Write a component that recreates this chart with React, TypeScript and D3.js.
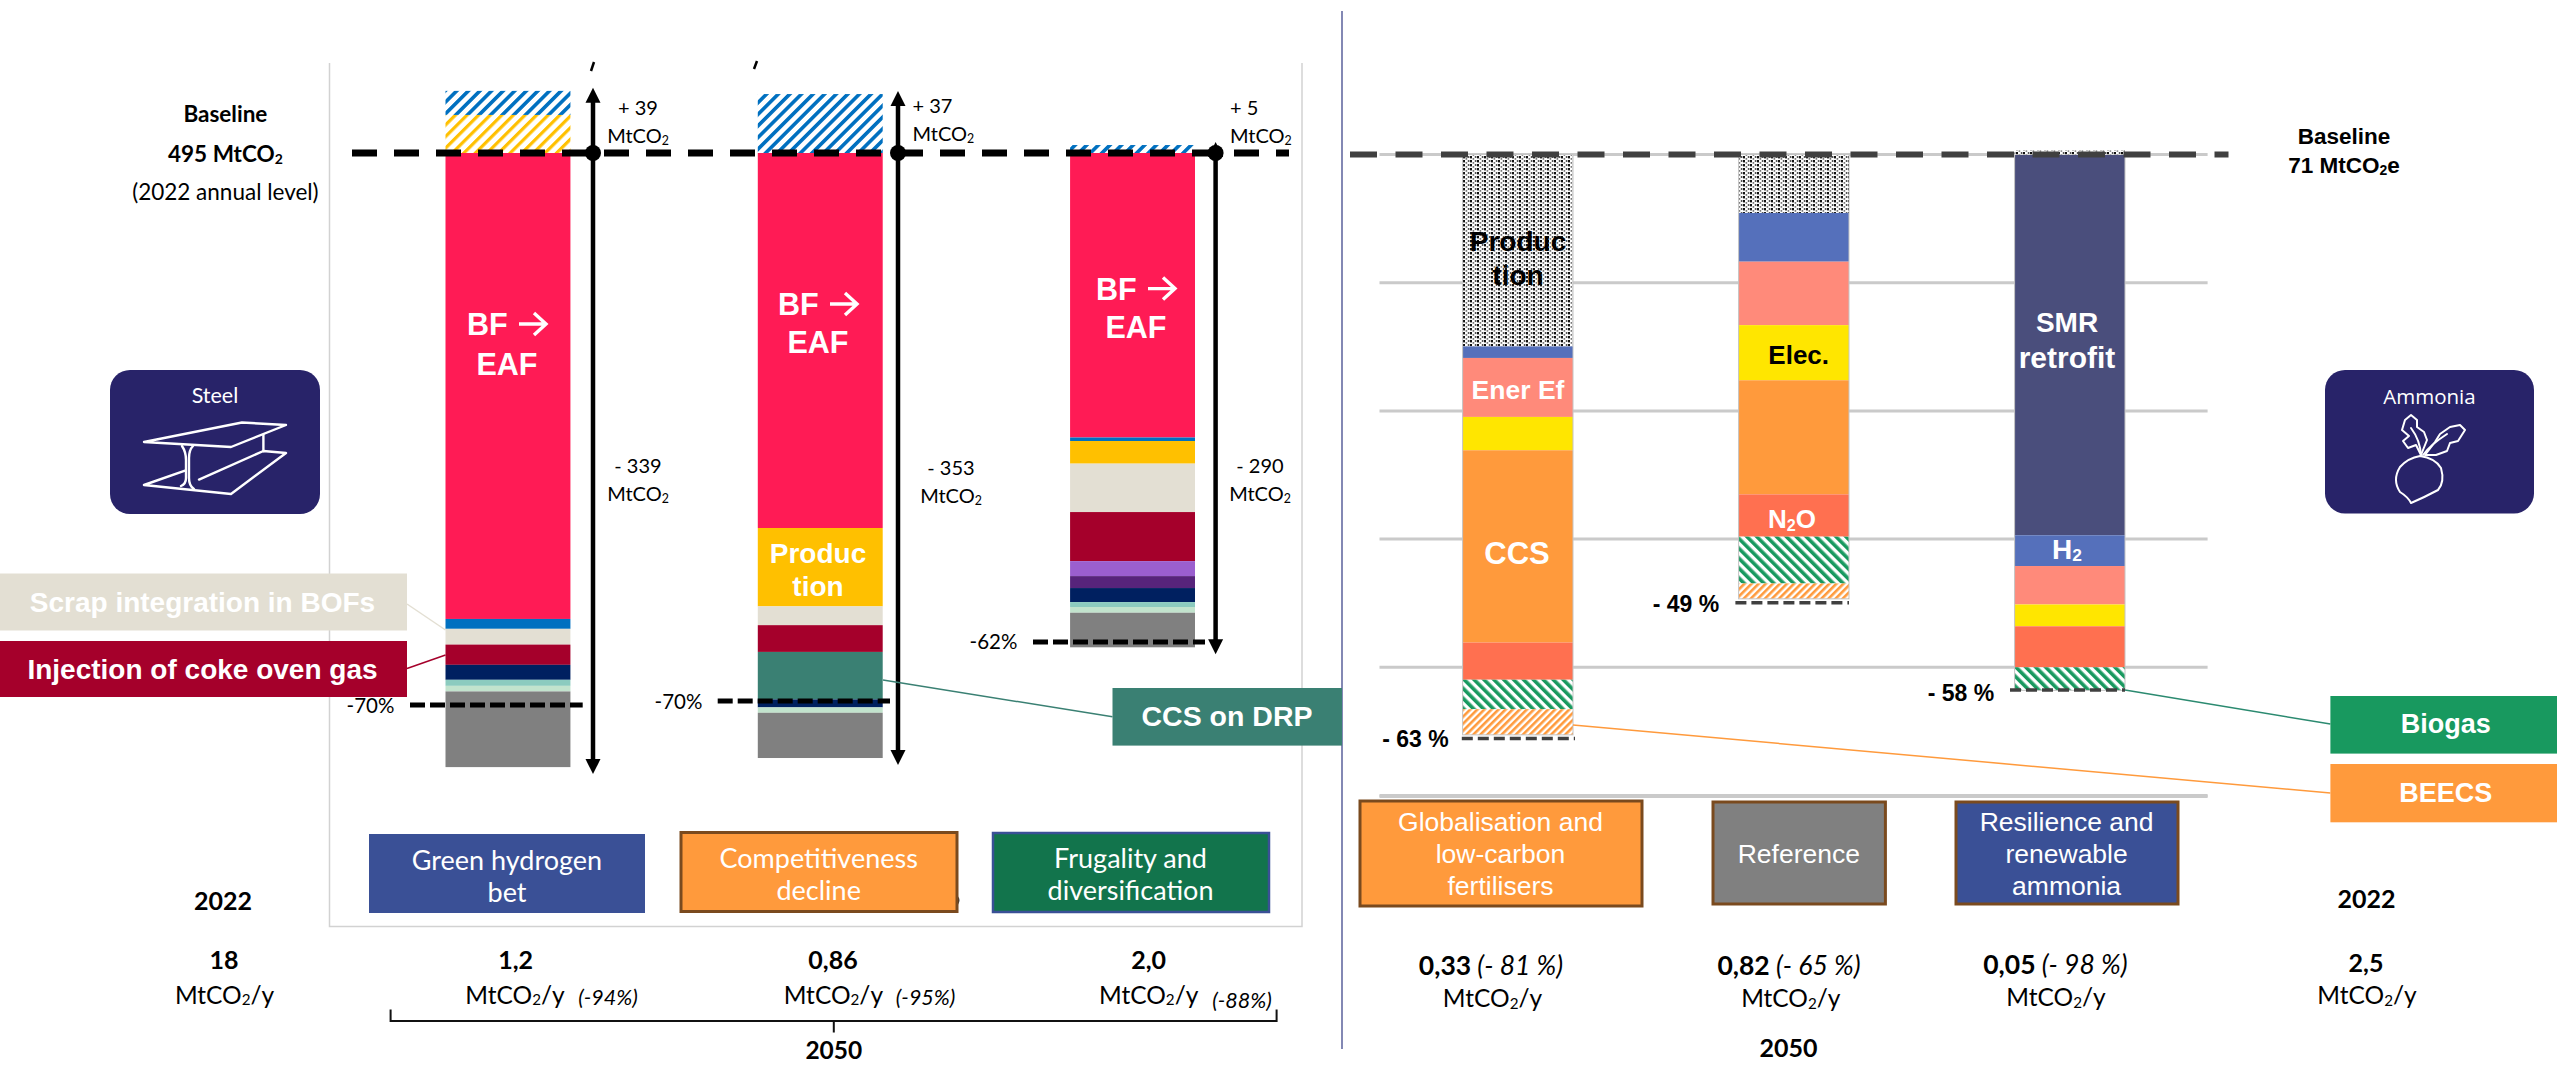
import React from "react";
import * as d3 from "d3";

// ---------- Steel pathway data (MtCO2 per lever, from top of bar downward) ----------
const steelScenarios = ["Green hydrogen bet", "Competitiveness decline", "Frugality and diversification"];
const steelGains = [
  [{ v: 23.9, c: "url(#hatchYellow)" }, { v: 15.1, c: "url(#hatchBlue)" }],
  [{ v: 37, c: "url(#hatchBlue)" }],
  [{ v: 5, c: "url(#hatchBlue)" }],
];
const steelLevers1 = [292.5, 6.2, 9.9, 12.7, 9.4, 3.8, 3.5, 47.5];
const steelColors1 = ["#ff1b55", "#0070c0", "#e3dfd3", "#a5002b", "#002060", "#8ccbbf", "#c2e3cd", "#808080"];
const steelLevers2 = [235.4, 49.2, 11.8, 16.8, 29.8, 5, 3.4, 28.4];
const steelColors2 = ["#ff1b55", "#ffc000", "#e3dfd3", "#a5002b", "#3a8073", "#002060", "#c2e3cd", "#808080"];
const steelLevers3 = [178.6, 2.2, 14.2, 30.4, 30.8, 9.4, 7.5, 8.8, 3.1, 3.6, 21.7];
const steelColors3 = ["#ff1b55", "#0070c0", "#ffc000", "#e3dfd3", "#a5002b", "#9b5fcf", "#57247b", "#002060", "#8ccbbf", "#c2e3cd", "#808080"];
const steelTargets = [70, 70, 62];
const steelBaseline = 495;

// ---------- Ammonia pathway data (MtCO2e per lever) ----------
const ammoniaScenarios = ["Globalisation and low-carbon fertilisers", "Reference", "Resilience and renewable ammonia"];
const ammoniaLeversA = [14.97, 0.9, 4.6, 2.6, 15.0, 2.9, 2.3, 2.0];
const ammoniaColorsA = ["url(#dots)", "#5570bb", "#ff8a7a", "#ffe600", "#ff9a3c", "#ff7050", "url(#hatchGreen)", "url(#hatchOrange)"];
const ammoniaLeversB = [4.56, 3.8, 4.95, 4.3, 8.9, 3.3, 3.65, 1.2];
const ammoniaColorsB = ammoniaColorsA;
const ammoniaLeversC = [29.7, 2.4, 3.0, 1.7, 3.2, 1.8];
const ammoniaColorsC = ["#4a4e7c", "#5570bb", "#ff8a7a", "#ffe600", "#ff7050", "url(#hatchGreen)"];
const ammoniaTargets = [63, 49, 58];
const ammoniaGrid = [0, 10, 20, 30, 40, 50];

const ARIAL = "'Liberation Sans', Arial, sans-serif";
const LATO = "Lato, sans-serif";

// Scales
const steelX = d3.scaleBand<string>().domain(steelScenarios).range([445.5, 1195]).paddingInner(0.6);
const steelY = d3.scaleLinear().domain([0, 400]).range([153, 790.2]);
const ammoniaX = d3.scaleBand<string>().domain(ammoniaScenarios).range([1462.6, 2125]).paddingInner(0.6);
const ammoniaY = d3.scaleLinear().domain([0, 50]).range([154.5, 795.5]);
const ammoniaPct = d3.scaleLinear().domain([49, 63]).range([602.7, 738.4]);

type Seg = { y0: number; y1: number; c: string };
function stackSegs(values: number[], colors: string[], y: (v: number) => number): Seg[] {
  const ends = Array.from(d3.cumsum(values));
  return values.map((_, i) => ({ y0: y(i ? ends[i - 1] : 0), y1: y(ends[i]), c: colors[i] }));
}
function gainSegs(values: { v: number; c: string }[], y: (v: number) => number): Seg[] {
  let acc = 0;
  return values.map((g) => {
    const s = { y0: y(-acc - g.v), y1: y(-acc), c: g.c };
    acc += g.v;
    return s;
  });
}

// Text with an optional "_2" subscript marker
function T({ x, y, s, size, font = LATO, weight = 400, fill = "#000", anchor = "middle", italic = false }: any) {
  const parts = String(s).split("_2");
  return (
    <text x={x} y={y} fontSize={size} fontFamily={font} fontWeight={weight} fill={fill} textAnchor={anchor}
      dominantBaseline="central" fontStyle={italic ? "italic" : "normal"}>
      {parts.map((p, i) => (
        <React.Fragment key={i}>
          {i > 0 && <tspan fontSize={size * 0.62} dy={size * 0.24}>2</tspan>}
          <tspan dy={i > 0 ? -size * 0.24 : 0}>{p}</tspan>
        </React.Fragment>
      ))}
    </text>
  );
}

function Bars({ segs, x, w, edge }: { segs: Seg[]; x: number; w: number; edge?: string }) {
  return (
    <g>
      {segs.map((s, i) => (
        <rect key={i} x={x} y={s.y0} width={w} height={s.y1 - s.y0} fill={s.c} />
      ))}
      {edge && (
        <rect x={x} y={segs[0].y0} width={w} height={segs[segs.length - 1].y1 - segs[0].y0} fill="none" stroke={edge} strokeWidth={1} />
      )}
    </g>
  );
}

function DoubleArrow({ x, top, bottom, base }: { x: number; top: number; bottom: number; base: number }) {
  return (
    <g fill="#000" stroke="none">
      <line x1={x} x2={x} y1={top + 8} y2={bottom - 8} stroke="#000" strokeWidth={4.5} />
      <path d={`M${x},${top} l7.5,15 h-15 z`} />
      <path d={`M${x},${bottom} l7.5,-15 h-15 z`} />
      <circle cx={x} cy={base} r={8} />
    </g>
  );
}

function Box({ x, y, w, h, fill, stroke, sw = 3 }: any) {
  return <rect x={x} y={y} width={w} height={h} fill={fill} stroke={stroke ?? "none"} strokeWidth={stroke ? sw : 0} />;
}

// "BF → EAF" lever label, with the arrow drawn as a stroked glyph
function BfEaf({ x, a, b }: { x: number; a: number; b: number }) {
  return (
    <g>
      <T x={x - 40} y={a} s="BF" size={30.5} font={ARIAL} weight={700} fill="#fff" anchor="start" />
      <path d={`M${x + 12},${a} H${x + 39} M${x + 27},${a - 11} L${x + 39},${a} L${x + 27},${a + 11}`}
        fill="none" stroke="#fff" strokeWidth={3.4} />
      <T x={x} y={b} s="EAF" size={30.5} font={ARIAL} weight={700} fill="#fff" />
    </g>
  );
}

export default function App() {
  const w1 = steelX.bandwidth();
  const w2 = ammoniaX.bandwidth();
  const sx = steelScenarios.map((d) => steelX(d) as number);
  const ax = ammoniaScenarios.map((d) => ammoniaX(d) as number);

  const steelStacks = [
    stackSegs(steelLevers1, steelColors1, steelY),
    stackSegs(steelLevers2, steelColors2, steelY),
    stackSegs(steelLevers3, steelColors3, steelY),
  ];
  const steelUp = steelGains.map((g) => gainSegs(g, steelY));
  const ammoniaStacks = [
    stackSegs(ammoniaLeversA, ammoniaColorsA, ammoniaY),
    stackSegs(ammoniaLeversB, ammoniaColorsB, ammoniaY),
    stackSegs(ammoniaLeversC, ammoniaColorsC, ammoniaY),
  ];
  const baseY = steelY(0);
  const baseA = ammoniaY(0);
  const arrowX = [593, 898, 1215.6];
  const targetSpan = [[410, 582.7], [717.7, 890], [1033, 1205]];
  const targetShift = [0, -4, 0];
  const ammoniaSpan = [[1461.8, 1575], [1735.4, 1849], [2010, 2125]];
  const gridEdges = [1379.5, 2207.6];

  return (
    <svg width={2557} height={1066} viewBox="0 0 2557 1066" style={{ position: "absolute", left: 0, top: 0, background: "#fff" }}>
      <defs>
        <pattern id="hatchBlue" width="8.2" height="8.2" patternUnits="userSpaceOnUse" patternTransform="rotate(45)">
          <rect width="8.2" height="8.2" fill="#fff" />
          <rect width="3.6" height="8.2" fill="#0070c0" />
        </pattern>
        <pattern id="hatchYellow" width="8.2" height="8.2" patternUnits="userSpaceOnUse" patternTransform="rotate(45)">
          <rect width="8.2" height="8.2" fill="#fff" />
          <rect width="3.2" height="8.2" fill="#ffc000" />
        </pattern>
        <pattern id="hatchGreen" width="7" height="7" patternUnits="userSpaceOnUse" patternTransform="rotate(-45)">
          <rect width="7" height="7" fill="#fff" />
          <rect width="3.6" height="7" fill="#18995f" />
        </pattern>
        <pattern id="hatchOrange" width="5" height="5" patternUnits="userSpaceOnUse" patternTransform="rotate(45)">
          <rect width="5" height="5" fill="#fff" />
          <rect width="2.6" height="5" fill="#ff9a3c" />
        </pattern>
        <pattern id="dots" width="7" height="4" patternUnits="userSpaceOnUse">
          <rect width="7" height="4" fill="#fff" />
          <rect width="2" height="2.4" fill="#111" />
          <rect x="2.6" y="2" width="1.6" height="1.8" fill="#777" />
          <rect x="4.8" width="1.6" height="2" fill="#555" />
        </pattern>
      </defs>

      {/* Steel panel frame and sector divider */}
      <path d="M329.5,63 V926.5 H1302 V63" fill="none" stroke="#d2d2d2" strokeWidth={1.5} />
      <line x1={1342} x2={1342} y1={11} y2={1049} stroke="#8388b4" strokeWidth={2} />
      <path d="M591,71 L594,62 M754,69 L757,61" stroke="#000" strokeWidth={2.5} />

      {/* Steel bars */}
      {steelStacks.map((segs, i) => <Bars key={i} segs={segs} x={sx[i]} w={w1} />)}
      {steelUp.map((segs, i) => <Bars key={i} segs={segs} x={sx[i]} w={w1} />)}

      {/* Steel baseline */}
      <line x1={352} x2={1289} y1={baseY} y2={baseY} stroke="#000" strokeWidth={7} strokeDasharray="25 17" />

      {/* Steel reduction targets */}
      {steelTargets.map((p, i) => {
        const y = steelY((steelBaseline * p) / 100) + targetShift[i];
        return <line key={i} x1={targetSpan[i][0]} x2={targetSpan[i][1]} y1={y} y2={y} stroke="#000" strokeWidth={5} strokeDasharray="15 5" />;
      })}
      {steelStacks.map((segs, i) => {
        const tops = steelUp[i][steelUp[i].length - 1].y0;
        return <DoubleArrow key={i} x={arrowX[i]} top={tops - 3} bottom={segs[segs.length - 1].y1 + 7} base={baseY} />;
      })}

      <T x={225.4} y={113} s="Baseline" size={22.5} weight={700} />
      <T x={225.4} y={153} s="495 MtCO_2" size={22.5} weight={700} />
      <T x={225.4} y={191} s="(2022 annual level)" size={22.5} />

      <T x={638} y={106.5} s="+ 39" size={20} />
      <T x={638} y={135} s="MtCO_2" size={20} />
      <T x={912.5} y={105} s="+ 37" size={20} anchor="start" />
      <T x={912.5} y={133} s="MtCO_2" size={20} anchor="start" />
      <T x={1230} y={106.5} s="+ 5" size={20} anchor="start" />
      <T x={1230} y={135} s="MtCO_2" size={20} anchor="start" />
      <T x={638} y={465} s="- 339" size={20} />
      <T x={638} y={493} s="MtCO_2" size={20} />
      <T x={951} y={467} s="- 353" size={20} />
      <T x={951} y={495} s="MtCO_2" size={20} />
      <T x={1260} y={465} s="- 290" size={20} />
      <T x={1260} y={493} s="MtCO_2" size={20} />

      <T x={370.5} y={705} s={`-${steelTargets[0]}%`} size={20.5} />
      <T x={678.5} y={700.7} s={`-${steelTargets[1]}%`} size={20.5} />
      <T x={993.5} y={641} s={`-${steelTargets[2]}%`} size={20.5} />

      {/* Lever labels on the steel bars */}
      <BfEaf x={507} a={324} b={363.6} />
      <BfEaf x={818} a={304} b={342} />
      <BfEaf x={1136} a={288.6} b={327} />
      <T x={818} y={553} s="Produc" size={28} font={ARIAL} weight={700} fill="#fff" />
      <T x={818} y={586} s="tion" size={28} font={ARIAL} weight={700} fill="#fff" />

      {/* Steel callouts */}
      <line x1={407} y1={604} x2={445.5} y2={630} stroke="#e3dfd3" strokeWidth={1.5} />
      <line x1={407} y1={668.5} x2={445.5} y2={655} stroke="#a5002b" strokeWidth={1.5} />
      <line x1={883} y1={680} x2={1112.5} y2={716.8} stroke="#3a8073" strokeWidth={1.5} />
      <Box x={0} y={573.5} w={407} h={57} fill="#e3dfd3" />
      <T x={202.5} y={602} s="Scrap integration in BOFs" size={28} font={ARIAL} weight={700} fill="#fff" />
      <Box x={0} y={641} w={407} h={56} fill="#a5002b" />
      <T x={202.5} y={669} s="Injection of coke oven gas" size={28} font={ARIAL} weight={700} fill="#fff" />
      <Box x={1112.5} y={688} w={229.5} h={57.6} fill="#3a8073" />
      <T x={1227} y={716} s="CCS on DRP" size={28.5} font={ARIAL} weight={700} fill="#fff" />

      {/* Steel sector badge */}
      <rect x={110} y={370} width={210} height={144} rx={20} fill="#282369" />
      <T x={215} y={395} s="Steel" size={21.5} fill="#fff" />
      <g fill="none" stroke="#fff" strokeWidth={2.4} strokeLinejoin="round" strokeLinecap="round">
        <path d="M144,442 L242,422.5 L286,425 L231,447 Z" />
        <path d="M182,446 Q186,452 186,460 V478 Q186,484 181,486" />
        <path d="M193,446 Q189,450 189,458 V478 Q189,486 194,489" />
        <path d="M263.4,435 V451" />
        <path d="M185,470.7 L144,485 L231,494 L286,453 L263.4,451 L199,479.6" />
      </g>

      {/* Steel scenario boxes */}
      <Box x={369} y={834} w={276} h={79} fill="#3a5096" />
      <T x={507} y={858.7} s="Green hydrogen" size={27} fill="#fff" />
      <T x={507} y={890.5} s="bet" size={27} fill="#fff" />
      <path d="M957.5,897 Q960,900 957.5,904" fill="none" stroke="#333" strokeWidth={1.5} />
      <Box x={681} y={832.5} w={276} h={79} fill="#ff9a3c" stroke="#7a4a1e" />
      <T x={818.7} y={857} s="Competitiveness" size={27} fill="#fff" />
      <T x={818.7} y={889} s="decline" size={27} fill="#fff" />
      <Box x={993} y={833} w={276} h={79} fill="#12744c" stroke="#3a5096" sw={2.5} />
      <T x={1130.5} y={857} s="Frugality and" size={27} fill="#fff" />
      <T x={1130.5} y={889} s="diversification" size={27} fill="#fff" />

      {/* Steel footer */}
      <T x={223} y={899.6} s="2022" size={25} weight={700} />
      <T x={224} y={958.6} s="18" size={25} weight={700} />
      <T x={224.6} y={993.5} s="MtCO_2/y" size={24.5} />
      <T x={515.6} y={958.6} s="1,2" size={25} weight={700} />
      <T x={515} y={993.5} s="MtCO_2/y" size={24.5} />
      <T x={608} y={997} s="(-94%)" size={21.5} italic />
      <T x={833} y={958.6} s="0,86" size={25} weight={700} />
      <T x={833.4} y={993.5} s="MtCO_2/y" size={24.5} />
      <T x={925.6} y={997} s="(-95%)" size={21.5} italic />
      <T x={1148.7} y={958.6} s="2,0" size={25} weight={700} />
      <T x={1148.7} y={993.5} s="MtCO_2/y" size={24.5} />
      <T x={1242} y={1000} s="(-88%)" size={21.5} italic />
      <path d="M390.6,1009.6 V1021 H1276.6 V1009.6 M833.8,1021 V1032.5" fill="none" stroke="#111" strokeWidth={2} />
      <T x={833.8} y={1049} s="2050" size={24.5} weight={700} />

      {/* Ammonia gridlines */}
      {ammoniaGrid.map((g) => (
        <line key={g} x1={gridEdges[0]} x2={gridEdges[1]} y1={ammoniaY(g)} y2={ammoniaY(g)} stroke="#cacaca" strokeWidth={3} />
      ))}

      {/* Ammonia bars */}
      {ammoniaStacks.map((segs, i) => <Bars key={i} segs={segs} x={ax[i]} w={w2} edge="#c4c4c4" />)}
      <rect x={ax[2]} y={150.4} width={w2} height={4} fill="url(#dots)" />

      {/* Ammonia baseline and reduction targets */}
      <line x1={1350} x2={2228.5} y1={baseA} y2={baseA} stroke="#404040" strokeWidth={6} strokeDasharray="27 18.5" />
      {ammoniaTargets.map((p, i) => (
        <line key={i} x1={ammoniaSpan[i][0]} x2={ammoniaSpan[i][1]} y1={ammoniaPct(p)} y2={ammoniaPct(p)} stroke="#404040" strokeWidth={3.5} strokeDasharray="11 5" />
      ))}
      <T x={1415.5} y={739} s={`- ${ammoniaTargets[0]} %`} size={23} font={ARIAL} weight={700} />
      <T x={1686} y={604} s={`- ${ammoniaTargets[1]} %`} size={23} font={ARIAL} weight={700} />
      <T x={1961} y={693} s={`- ${ammoniaTargets[2]} %`} size={23} font={ARIAL} weight={700} />

      {/* Lever labels on the ammonia bars */}
      <T x={1518} y={240.6} s="Produc" size={28} font={ARIAL} weight={700} />
      <T x={1518} y={274.5} s="tion" size={28} font={ARIAL} weight={700} />
      <T x={1518} y={390} s="Ener Ef" size={26.5} font={ARIAL} weight={700} fill="#fff" />
      <T x={1517} y={553} s="CCS" size={31} font={ARIAL} weight={700} fill="#fff" />
      <T x={1798.7} y={355} s="Elec." size={26} font={ARIAL} weight={700} />
      <T x={1792} y={518.7} s="N_2O" size={26} font={ARIAL} weight={700} fill="#fff" />
      <T x={2067} y={322} s="SMR" size={28} font={ARIAL} weight={700} fill="#fff" />
      <T x={2067} y={356.7} s="retrofit" size={30} font={ARIAL} weight={700} fill="#fff" />
      <T x={2067} y={548.6} s="H_2" size={28} font={ARIAL} weight={700} fill="#fff" />

      {/* Ammonia callouts */}
      <line x1={2125} y1={690} x2={2330.4} y2={724} stroke="#2b8a70" strokeWidth={1.5} />
      <line x1={1573} y1={725} x2={2330.4} y2={793} stroke="#ff9a3c" strokeWidth={1.5} />
      <Box x={2330.4} y={696} w={227} h={57.6} fill="#18995f" />
      <T x={2445.7} y={724} s="Biogas" size={27} font={ARIAL} weight={700} fill="#fff" />
      <Box x={2330.4} y={764} w={227} h={58.3} fill="#ff9a3c" />
      <T x={2445.7} y={793} s="BEECS" size={27} font={ARIAL} weight={700} fill="#fff" />

      <T x={2344} y={135.7} s="Baseline" size={22.5} font={ARIAL} weight={700} />
      <T x={2344} y={164.7} s="71 MtCO_2e" size={22.5} font={ARIAL} weight={700} />

      {/* Ammonia sector badge */}
      <rect x={2325} y={370} width={209} height={143.4} rx={20} fill="#282369" />
      <T x={2429.5} y={396} s="Ammonia" size={20.5} font="'Open Sans', sans-serif" fill="#fff" />
      <g fill="none" stroke="#fff" strokeWidth={2} strokeLinejoin="round" strokeLinecap="round">
        <path d="M2411,503 Q2408,497 2400,492 Q2392,480 2400,467 Q2408,458 2420,456 Q2435,458 2441,468 Q2445,482 2438,490 Q2425,497 2411,503 Z" />
        <path d="M2421,455 Q2420,440 2411,428 M2423,455 Q2430,445 2447,434" />
        <path d="M2421,455 L2416,445 L2408,448 L2403,441 L2409,436 L2402,430 L2405,420 L2411,415 L2417,420 L2417,427 L2424,432 L2427,440 Z" />
        <path d="M2425,455 L2436,455 L2447,451 L2450,443 L2458,441 L2465,430 L2460,425 L2450,427 L2440,434 L2435,442 Z" />
      </g>

      {/* Ammonia scenario boxes */}
      <line x1={1379.5} x2={2207.6} y1={796.4} y2={796.4} stroke="#cacaca" strokeWidth={3} />
      <Box x={1360} y={801} w={282} h={105} fill="#ff9a3c" stroke="#7a4a1e" />
      <T x={1500.5} y={821.7} s="Globalisation and" size={26.5} font={ARIAL} fill="#fff" />
      <T x={1500.5} y={854} s="low-carbon" size={26.5} font={ARIAL} fill="#fff" />
      <T x={1500.5} y={886} s="fertilisers" size={26.5} font={ARIAL} fill="#fff" />
      <Box x={1713} y={802} w={172.4} h={102} fill="#808080" stroke="#7a4a1e" />
      <T x={1798.8} y={854} s="Reference" size={26.5} font={ARIAL} fill="#fff" />
      <Box x={1956} y={802} w={222} h={102} fill="#3a5096" stroke="#7a4a1e" />
      <T x={2066.6} y={821.7} s="Resilience and" size={26.5} font={ARIAL} fill="#fff" />
      <T x={2066.6} y={854} s="renewable" size={26.5} font={ARIAL} fill="#fff" />
      <T x={2066.6} y={886} s="ammonia" size={26.5} font={ARIAL} fill="#fff" />

      {/* Ammonia footer */}
      {[["0,33", "(- 81 %)", 1491, 965, 1492.5, 996.7], ["0,82", "(- 65 %)", 1789, 965, 1790.8, 996.7], ["0,05", "(- 98 %)", 2055.4, 964, 2056, 996]].map(([a, b, x, y, mx, my]: any, i) => (
        <g key={i}>
          <text x={x} y={y} textAnchor="middle" dominantBaseline="central" fontSize={26.5} fontFamily={LATO}>
            <tspan fontWeight={700}>{a}</tspan>
            <tspan fontStyle="italic"> {b}</tspan>
          </text>
          <T x={mx} y={my} s="MtCO_2/y" size={24.5} />
        </g>
      ))}
      <T x={2366.6} y={897.7} s="2022" size={25} weight={700} />
      <T x={2366} y={962} s="2,5" size={25} weight={700} />
      <T x={2367} y={994} s="MtCO_2/y" size={24.5} />
      <T x={1788.4} y={1046.7} s="2050" size={25} weight={700} />
    </svg>
  );
}
